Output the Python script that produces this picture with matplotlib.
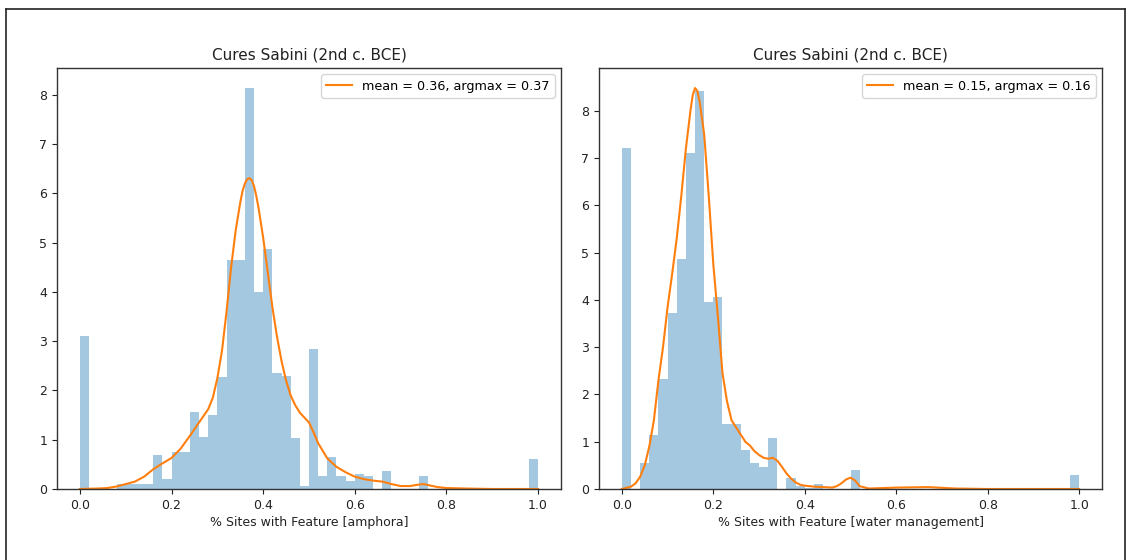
import numpy as np
import matplotlib
matplotlib.use("Agg")
import matplotlib.pyplot as plt
from matplotlib.lines import Line2D

# ---------------- data ----------------
bin_edges = np.linspace(0.0, 1.0, 51)

amphora_density = [
    3.11, 0.0, 0.0, 0.0, 0.10, 0.10, 0.10, 0.10, 0.70, 0.20,
    0.76, 0.76, 1.57, 1.05, 1.51, 2.27, 4.64, 4.64, 8.14, 3.99,
    4.87, 2.35, 2.30, 1.03, 0.06, 2.85, 0.26, 0.65, 0.26, 0.16,
    0.31, 0.26, 0.0, 0.36, 0.0, 0.0, 0.0, 0.26, 0.0, 0.0,
    0.0, 0.0, 0.0, 0.0, 0.0, 0.0, 0.0, 0.0, 0.0, 0.61,
]
water_density = [
    7.21, 0.0, 0.54, 1.14, 2.32, 3.72, 4.86, 7.10, 8.41, 3.96,
    4.06, 1.37, 1.37, 0.83, 0.54, 0.47, 1.07, 0.0, 0.24, 0.06,
    0.03, 0.10, 0.0, 0.0, 0.0, 0.40, 0.0, 0.0, 0.0, 0.0,
    0.0, 0.0, 0.0, 0.0, 0.0, 0.0, 0.0, 0.0, 0.0, 0.0,
    0.0, 0.0, 0.0, 0.0, 0.0, 0.0, 0.0, 0.0, 0.0, 0.30,
]

amphora_kde_x = [0.00, 0.04, 0.06, 0.08, 0.10, 0.12, 0.14, 0.16, 0.18, 0.20,
                 0.22, 0.24, 0.26, 0.28, 0.29, 0.30, 0.31, 0.32, 0.33, 0.34,
                 0.35, 0.355, 0.36, 0.365, 0.37, 0.375, 0.38, 0.385, 0.39, 0.40,
                 0.41, 0.42, 0.43, 0.44, 0.45, 0.46, 0.47, 0.48, 0.49, 0.50,
                 0.51, 0.52, 0.54, 0.56, 0.58, 0.60, 0.62, 0.64, 0.66, 0.68,
                 0.70, 0.72, 0.74, 0.75, 0.76, 0.78, 0.80, 0.84, 0.90, 1.00]
amphora_kde_y = [0.00, 0.01, 0.02, 0.05, 0.10, 0.15, 0.25, 0.40, 0.52, 0.63,
                 0.82, 1.08, 1.35, 1.62, 1.85, 2.25, 2.80, 3.60, 4.50, 5.25,
                 5.82, 6.05, 6.20, 6.29, 6.31, 6.27, 6.15, 5.95, 5.70, 5.10,
                 4.40, 3.70, 3.10, 2.60, 2.20, 1.90, 1.70, 1.55, 1.45, 1.35,
                 1.15, 0.93, 0.62, 0.45, 0.34, 0.25, 0.20, 0.17, 0.15, 0.10,
                 0.06, 0.06, 0.09, 0.10, 0.08, 0.04, 0.02, 0.01, 0.00, 0.00]

water_kde_x = [0.00, 0.02, 0.03, 0.04, 0.05, 0.06, 0.07, 0.08, 0.09, 0.10,
               0.11, 0.12, 0.13, 0.14, 0.15, 0.155, 0.16, 0.165, 0.17, 0.18,
               0.19, 0.20, 0.21, 0.22, 0.23, 0.24, 0.25, 0.26, 0.27, 0.28,
               0.29, 0.30, 0.31, 0.32, 0.33, 0.34, 0.35, 0.36, 0.37, 0.38,
               0.39, 0.40, 0.42, 0.44, 0.46, 0.47, 0.48, 0.49, 0.50, 0.51,
               0.52, 0.54, 0.60, 0.67, 0.73, 0.80, 1.00]
water_kde_y = [0.00, 0.05, 0.12, 0.26, 0.50, 0.90, 1.45, 2.30, 3.00, 3.85,
               4.55, 5.30, 6.20, 7.20, 8.00, 8.33, 8.48, 8.42, 8.20, 7.50,
               6.20, 4.75, 3.65, 2.45, 1.85, 1.45, 1.30, 1.15, 1.00, 0.92,
               0.80, 0.72, 0.66, 0.64, 0.66, 0.60, 0.47, 0.33, 0.22, 0.14,
               0.09, 0.07, 0.05, 0.04, 0.03, 0.06, 0.12, 0.20, 0.24, 0.18,
               0.06, 0.01, 0.03, 0.04, 0.01, 0.00, 0.00]

titles = ["Cures Sabini (2nd c. BCE)", "Cures Sabini (2nd c. BCE)"]
xlabels = ["% Sites with Feature [amphora]", "% Sites with Feature [water management]"]
legend_labels = ["mean = 0.36, argmax = 0.37", "mean = 0.15, argmax = 0.16"]
x_ticks = [0.0, 0.2, 0.4, 0.6, 0.8, 1.0]
y_ticks = [0, 1, 2, 3, 4, 5, 6, 7, 8]

# ---------------- figure ----------------
W, H = 1132, 560
fig = plt.figure(figsize=(W / 100, H / 100), dpi=100)

def axes_rect(left, right, top, bottom):
    return [left / W, 1 - bottom / H, (right - left) / W, (bottom - top) / H]

ax_rects = [axes_rect(57, 561, 68, 489), axes_rect(599, 1102, 68, 489)]
densities = [amphora_density, water_density]
kdes = [(amphora_kde_x, amphora_kde_y), (water_kde_x, water_kde_y)]

centers = 0.5 * (bin_edges[:-1] + bin_edges[1:])

for i in range(2):
    ax = fig.add_axes(ax_rects[i])
    ax.hist(centers, bins=bin_edges, weights=densities[i],
            color="#1f77b4", alpha=0.4)
    ax.plot(kdes[i][0], kdes[i][1], color="#ff7f0e", lw=1.5,
            label=legend_labels[i])
    ax.set_xlim(-0.05, 1.05)
    ymax = max(max(densities[i]), max(kdes[i][1])) * 1.05
    ax.set_ylim(0, ymax)
    ax.set_xticks(x_ticks)
    ax.set_yticks(y_ticks)
    ax.tick_params(labelsize=9, length=3.5, width=0.8, colors="#222222")
    ax.set_title(titles[i], fontsize=11, color="#222222", pad=6)
    ax.set_xlabel(xlabels[i], fontsize=9, color="#222222", labelpad=3)
    for s in ax.spines.values():
        s.set_color("#333333")
        s.set_linewidth(1.0)
    leg = ax.legend(loc="upper right", fontsize=9.2, frameon=True,
                    handlelength=2.0, borderpad=0.4)
    leg.get_frame().set_edgecolor("#cccccc")

# outer frame of the scanned figure
frame_kw = dict(color="#222222", lw=1.2, transform=fig.transFigure)
fig.add_artist(Line2D([6 / W, 6 / W], [0, 1 - 9 / H], **frame_kw))
fig.add_artist(Line2D([6 / W, 1125 / W], [1 - 9 / H, 1 - 9 / H], **frame_kw))
fig.add_artist(Line2D([1125 / W, 1125 / W], [0, 1 - 9 / H], **frame_kw))

fig.savefig("out.png", dpi=100, facecolor="white")
